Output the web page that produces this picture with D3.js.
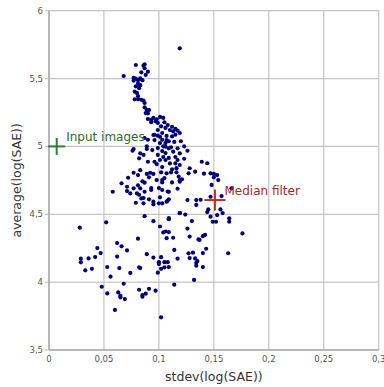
<!DOCTYPE html>
<html><head><meta charset="utf-8">
<script src="https://cdn.jsdelivr.net/npm/d3@7"></script>
<style>body{margin:0;background:#fff;}svg{display:block;}</style>
</head><body>
<svg id="c" width="384" height="387"></svg>
<script>
const xTicks = [0, 0.05, 0.1, 0.15, 0.2, 0.25, 0.3];
const yTicks = [3.5, 4, 4.5, 5, 5.5, 6];
const xTitle = "stdev(log(SAE))";
const yTitle = "average(log(SAE))";
const stdevVals = [0.119,0.079,0.068,0.084,0.086,0.087,0.087,0.090,0.088,0.077,0.079,0.081,0.081,0.077,0.083,0.079,0.083,0.085,0.082,0.078,
0.078,0.081,0.081,0.080,0.084,0.086,0.087,0.087,0.089,0.089,0.088,0.091,0.090,0.090,0.093,0.095,0.098,0.101,0.104,0.093,
0.097,0.099,0.105,0.102,0.108,0.112,0.115,0.117,0.119,0.113,0.115,0.112,0.096,0.099,0.095,0.087,0.090,0.103,0.106,0.109,
0.107,0.104,0.111,0.120,0.123,0.089,0.077,0.101,0.106,0.109,0.113,0.117,0.119,0.076,0.083,0.082,0.086,0.090,0.096,0.101,
0.106,0.110,0.115,0.112,0.119,0.089,0.126,0.123,0.139,0.144,0.128,0.133,0.141,0.147,0.150,0.153,0.150,0.154,0.148,0.157,
0.166,0.147,0.134,0.126,0.138,0.145,0.156,0.153,0.164,0.164,0.147,0.149,0.130,0.176,0.119,0.109,0.101,0.106,0.142,0.128,
0.137,0.163,0.114,0.144,0.158,0.152,0.087,0.095,0.109,0.119,0.124,0.028,0.052,0.104,0.109,0.107,0.113,0.126,0.136,0.140,
0.081,0.062,0.066,0.071,0.044,0.047,0.042,0.036,0.029,0.029,0.062,0.089,0.095,0.102,0.100,0.105,0.108,0.117,0.127,0.131,
0.128,0.133,0.135,0.134,0.140,0.143,0.086,0.079,0.095,0.100,0.103,0.107,0.134,0.033,0.039,0.053,0.064,0.082,0.083,0.100,
0.102,0.105,0.109,0.134,0.140,0.056,0.074,0.099,0.132,0.114,0.048,0.068,0.053,0.063,0.065,0.065,0.069,0.082,0.085,0.085,
0.088,0.091,0.097,0.060,0.102,0.058,0.066,0.071,0.077,0.083,0.074,0.080,0.087,0.093,0.103,0.109,0.117,0.084,0.091,0.101,
0.109,0.077,0.081,0.092,0.095,0.091,0.098,0.103,0.107,0.118,0.121,0.119,0.127,0.072,0.081,0.085,0.087,0.082,0.086,0.093,
0.095,0.100,0.103,0.102,0.105,0.108,0.108,0.111,0.112,0.116,0.119,0.089,0.083,0.071,0.099,0.103,0.106,0.099,0.104,0.109,
0.094,0.115,0.117,0.098,0.103,0.116,0.101,0.096,0.110,0.106,0.103,0.107,0.114,0.099];
const averageVals = [5.723,5.600,5.519,5.546,5.595,5.605,5.576,5.551,5.527,5.505,5.500,5.488,5.463,5.484,5.502,5.443,5.451,5.488,5.429,5.403,
5.347,5.347,5.370,5.394,5.344,5.337,5.320,5.288,5.270,5.268,5.246,5.268,5.244,5.202,5.195,5.210,5.200,5.217,5.210,5.178,
5.185,5.173,5.178,5.148,5.157,5.145,5.130,5.116,5.099,5.111,5.086,5.074,5.086,5.079,5.084,5.062,5.049,5.049,5.025,5.038,
5.047,5.001,4.993,5.038,5.001,5.001,4.981,5.071,4.998,4.986,4.961,4.986,4.949,4.968,4.949,4.912,4.937,4.887,4.887,4.900,
4.900,4.875,4.875,4.831,4.863,4.981,4.968,4.909,4.887,4.876,4.839,4.814,4.799,4.802,4.797,4.789,4.772,4.752,4.716,4.634,
4.691,4.629,4.605,4.605,4.607,4.536,4.536,4.494,4.470,4.445,4.482,4.445,4.450,4.359,4.508,4.464,4.410,4.373,4.348,4.336,
4.311,4.213,4.237,4.516,4.509,4.445,4.486,4.449,4.471,4.510,4.498,4.401,4.441,4.366,4.369,4.324,4.327,4.395,4.315,4.339,
4.320,4.288,4.264,4.234,4.251,4.214,4.185,4.175,4.173,4.146,4.188,4.206,4.181,4.184,4.147,4.147,4.147,4.173,4.212,4.217,
4.177,4.175,4.155,4.143,4.214,4.246,4.581,4.585,4.573,4.581,4.581,4.593,4.569,4.087,4.098,4.111,4.104,4.109,4.104,4.133,
4.098,4.109,4.111,4.121,4.111,4.040,4.068,4.070,4.016,3.981,3.966,3.988,3.917,3.924,3.899,3.888,3.875,3.944,3.905,3.893,
3.915,3.951,3.937,3.795,3.741,4.666,4.728,4.703,4.691,4.691,4.654,4.654,4.666,4.679,4.679,4.666,4.688,4.617,4.610,4.625,
4.610,4.806,4.789,4.806,4.797,4.772,4.752,4.752,4.802,4.777,4.758,4.740,4.802,4.769,4.713,4.743,4.733,4.644,4.620,4.693,
4.593,4.693,4.735,4.809,4.767,4.668,4.599,4.809,4.735,4.809,4.750,4.797,4.825,4.671,4.988,4.966,4.951,4.937,4.922,4.915,
4.973,4.922,4.900,4.870,4.848,4.840,5.025,5.047,5.121,5.136,5.099,5.077,5.033,5.121];
const annotNames = ["Input images", "Median filter"];
const annotX = [0.007, 0.151];
const annotY = [5.0, 4.605];
const annotColors = ["#2e7d32", "#cc2a2a"];
const annotTextColors = ["#2a6e2a", "#a52a2a"];

const svg = d3.select("#c");
const m = {l:49, r:5.3, t:10.7, b:37};
const W = 384, H = 387;
const x = d3.scaleLinear().domain([0, 0.3]).range([m.l, W - m.r]);
const y = d3.scaleLinear().domain([3.5, 6]).range([H - m.b, m.t]);
const fmt = d => String(d).replace(".", ",");

// grid
svg.append("g").selectAll("line").data(xTicks).join("line")
  .attr("x1", d => x(d)).attr("x2", d => x(d)).attr("y1", y(6)).attr("y2", y(3.5))
  .attr("stroke", "#c4c4c4").attr("stroke-width", 1.2);
svg.append("g").selectAll("line").data(yTicks).join("line")
  .attr("x1", x(0) - 4).attr("x2", x(0.3)).attr("y1", d => y(d)).attr("y2", d => y(d))
  .attr("stroke", "#c4c4c4").attr("stroke-width", 1.2);
// axis lines
svg.append("line").attr("x1", x(0)).attr("x2", x(0)).attr("y1", y(6)).attr("y2", y(3.5)).attr("stroke", "#aaa").attr("stroke-width", 1.5);
svg.append("line").attr("x1", x(0)).attr("x2", x(0.3)).attr("y1", y(3.5)).attr("y2", y(3.5)).attr("stroke", "#aaa").attr("stroke-width", 1.5);

// tick labels
svg.append("g").selectAll("text").data(yTicks).join("text")
  .attr("x", x(0) - 6).attr("y", d => y(d) + 3).attr("text-anchor", "end")
  .attr("font-family", "DejaVu Sans").attr("font-size", 8.5).attr("fill", "#555").text(fmt);
svg.append("g").selectAll("text").data(xTicks).join("text")
  .attr("x", d => x(d)).attr("y", y(3.5) + 12).attr("text-anchor", "middle")
  .attr("font-family", "DejaVu Sans").attr("font-size", 8.5).attr("fill", "#555").text(fmt);

// titles
svg.append("text").attr("x", (x(0) + x(0.3)) / 2).attr("y", 381).attr("text-anchor", "middle")
  .attr("font-family", "DejaVu Sans").attr("font-size", 12.5).attr("fill", "#333").text(xTitle);
svg.append("text").attr("transform", `translate(21,${(y(6) + y(3.5)) / 2}) rotate(-90)`).attr("text-anchor", "middle")
  .attr("font-family", "DejaVu Sans").attr("font-size", 12.5).attr("fill", "#333").text(yTitle);

// points
const pts = stdevVals.map((v, i) => [v, averageVals[i]]);
svg.append("g").selectAll("circle").data(pts).join("circle")
  .attr("cx", d => x(d[0])).attr("cy", d => y(d[1])).attr("r", 2.1)
  .attr("fill", "#00007a");

// annotations
const sizes = [8.5, 10.5];
annotNames.forEach((n, i) => {
  const cx = x(annotX[i]), cy = y(annotY[i]), s = sizes[i];
  svg.append("line").attr("x1", cx - s).attr("x2", cx + s).attr("y1", cy).attr("y2", cy).attr("stroke", annotColors[i]).attr("stroke-width", 2);
  svg.append("line").attr("x1", cx).attr("x2", cx).attr("y1", cy - s).attr("y2", cy + s).attr("stroke", annotColors[i]).attr("stroke-width", 2);
  svg.append("text").attr("x", cx + 9.5).attr("y", cy - 5).attr("font-family", "DejaVu Sans").attr("font-size", 12)
    .attr("fill", annotTextColors[i]).text(n);
});
</script>
</body></html>
